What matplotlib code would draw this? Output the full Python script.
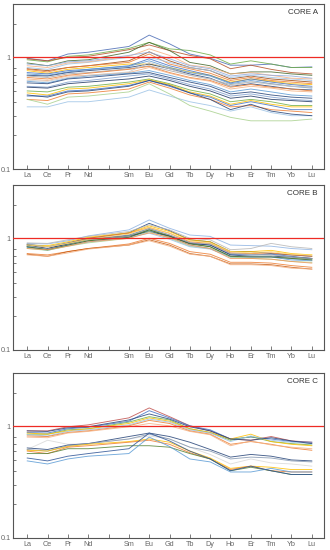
import matplotlib
matplotlib.use("Agg")
import matplotlib.pyplot as plt
from matplotlib.ticker import FixedLocator, NullFormatter

plt.rcParams["font.family"] = ["Liberation Sans", "DejaVu Sans"]

elements = ["La", "Ce", "Pr", "Nd", "", "Sm", "Eu", "Gd", "Tb", "Dy", "Ho", "Er", "Tm", "Yb", "Lu"]
elem_pos = [0, 1, 2, 3, 5, 6, 7, 8, 9, 10, 11, 12, 13, 14]  # Pm (4) has no data

core_a = [
    [0.98, 0.93, 1.07, 1.11, 1.25, 1.58, 1.32, 1.07, 0.98, 0.85, 0.85, 0.87, 0.81, 0.82],
    [0.95, 0.91, 1.02, 1.05, 1.20, 1.36, 1.19, 1.15, 1.05, 0.87, 0.93, 0.87, 0.81, 0.81],
    [0.97, 0.93, 1.00, 1.02, 1.17, 1.29, 1.15, 1.04, 0.97, 0.79, 0.85, 0.78, 0.73, 0.71],
    [0.89, 0.84, 0.93, 0.95, 1.11, 1.36, 1.15, 0.90, 0.84, 0.71, 0.74, 0.74, 0.71, 0.69],
    [0.79, 0.76, 0.81, 0.84, 0.93, 1.12, 0.93, 0.81, 0.76, 0.64, 0.68, 0.64, 0.62, 0.60],
    [0.78, 0.74, 0.81, 0.84, 0.90, 1.07, 0.87, 0.79, 0.72, 0.62, 0.66, 0.62, 0.60, 0.58],
    [0.81, 0.78, 0.87, 0.90, 1.00, 1.00, 0.90, 0.81, 0.76, 0.66, 0.69, 0.66, 0.64, 0.62],
    [0.76, 0.72, 0.78, 0.81, 0.87, 0.87, 0.81, 0.74, 0.69, 0.60, 0.64, 0.61, 0.58, 0.57],
    [0.73, 0.71, 0.76, 0.78, 0.84, 0.97, 0.84, 0.76, 0.69, 0.59, 0.64, 0.60, 0.57, 0.55],
    [0.71, 0.69, 0.74, 0.78, 0.83, 0.93, 0.81, 0.73, 0.68, 0.58, 0.62, 0.58, 0.55, 0.53],
    [0.69, 0.68, 0.73, 0.76, 0.81, 0.87, 0.79, 0.71, 0.65, 0.55, 0.58, 0.55, 0.52, 0.51],
    [0.68, 0.66, 0.71, 0.73, 0.79, 0.84, 0.76, 0.69, 0.64, 0.57, 0.60, 0.58, 0.55, 0.54],
    [0.66, 0.64, 0.69, 0.72, 0.78, 0.83, 0.73, 0.66, 0.62, 0.54, 0.57, 0.54, 0.52, 0.50],
    [0.64, 0.62, 0.68, 0.69, 0.73, 0.81, 0.72, 0.65, 0.61, 0.52, 0.55, 0.53, 0.50, 0.49],
    [0.61, 0.59, 0.65, 0.68, 0.72, 0.76, 0.69, 0.62, 0.57, 0.49, 0.52, 0.49, 0.46, 0.45],
    [0.59, 0.58, 0.64, 0.66, 0.71, 0.73, 0.66, 0.60, 0.55, 0.47, 0.49, 0.46, 0.44, 0.43],
    [0.55, 0.54, 0.60, 0.62, 0.68, 0.71, 0.64, 0.57, 0.52, 0.45, 0.47, 0.44, 0.42, 0.41],
    [0.54, 0.53, 0.58, 0.60, 0.64, 0.68, 0.62, 0.55, 0.50, 0.43, 0.45, 0.42, 0.41, 0.40],
    [0.50, 0.49, 0.54, 0.55, 0.60, 0.64, 0.58, 0.51, 0.47, 0.40, 0.42, 0.40, 0.37, 0.37],
    [0.48, 0.46, 0.52, 0.53, 0.58, 0.63, 0.57, 0.49, 0.45, 0.38, 0.41, 0.38, 0.36, 0.36],
    [0.45, 0.45, 0.50, 0.51, 0.56, 0.62, 0.55, 0.48, 0.44, 0.37, 0.40, 0.37, 0.34, 0.34],
    [0.42, 0.41, 0.47, 0.48, 0.52, 0.60, 0.53, 0.46, 0.42, 0.36, 0.37, 0.34, 0.33, 0.32],
    [0.36, 0.36, 0.40, 0.40, 0.44, 0.51, 0.45, 0.40, 0.37, 0.33, 0.36, 0.32, 0.30, 0.30],
    [0.42, 0.38, 0.44, 0.45, 0.49, 0.58, 0.47, 0.37, 0.33, 0.29, 0.27, 0.27, 0.27, 0.28],
    [0.46, 0.44, 0.49, 0.50, 0.55, 0.62, 0.56, 0.48, 0.42, 0.34, 0.38, 0.33, 0.31, 0.30],
    [0.62, 0.61, 0.66, 0.69, 0.74, 0.90, 0.79, 0.69, 0.64, 0.55, 0.61, 0.57, 0.55, 0.54],
    [0.84, 0.81, 0.89, 0.91, 1.02, 1.19, 1.04, 0.85, 0.81, 0.71, 0.73, 0.69, 0.65, 0.64],
    [0.87, 0.84, 0.91, 0.93, 1.04, 1.11, 0.97, 0.84, 0.79, 0.68, 0.71, 0.69, 0.68, 0.65],
]
colors_a = ["#4A6BB5", "#70AD47", "#B4522A", "#43682B", "#9E480E", "#ED7D31", "#9DC3E6",
            "#FFC000", "#4472C4", "#5B9BD5", "#264478", "#A5A5A5", "#ED7D31", "#F4B183",
            "#5B9BD5", "#264478", "#7F9FCF", "#203864", "#70AD47", "#FFC000", "#4472C4",
            "#ED7D31", "#9DC3E6", "#A9D18E", "#264478", "#C9C9C9", "#F4B183", "#8FAADC"]

core_b = [
    [0.90, 0.89, 0.95, 1.05, 1.19, 1.46, 1.23, 1.07, 1.04, 0.87, 0.86, 0.85, 0.81, 0.79],
    [0.88, 0.84, 0.91, 1.00, 1.12, 1.36, 1.17, 0.97, 0.93, 0.76, 0.76, 0.73, 0.71, 0.69],
    [0.91, 0.90, 0.97, 1.04, 1.15, 1.32, 1.19, 1.00, 0.97, 0.79, 0.81, 0.90, 0.84, 0.81],
    [0.87, 0.86, 0.93, 1.02, 1.12, 1.29, 1.15, 0.97, 0.93, 0.76, 0.76, 0.78, 0.73, 0.71],
    [0.85, 0.81, 0.90, 1.00, 1.11, 1.25, 1.11, 0.93, 0.90, 0.74, 0.73, 0.74, 0.71, 0.69],
    [0.84, 0.80, 0.89, 0.98, 1.07, 1.22, 1.07, 0.91, 0.87, 0.72, 0.71, 0.72, 0.69, 0.66],
    [0.84, 0.79, 0.87, 0.95, 1.05, 1.19, 1.05, 0.90, 0.84, 0.69, 0.69, 0.69, 0.66, 0.65],
    [0.83, 0.78, 0.86, 0.93, 1.02, 1.17, 1.02, 0.87, 0.81, 0.68, 0.68, 0.68, 0.64, 0.63],
    [0.87, 0.81, 0.89, 0.98, 1.05, 1.15, 1.05, 0.90, 0.87, 0.71, 0.69, 0.69, 0.68, 0.66],
    [0.81, 0.78, 0.85, 0.91, 1.00, 1.15, 1.00, 0.85, 0.81, 0.68, 0.66, 0.65, 0.62, 0.61],
    [0.85, 0.80, 0.87, 0.93, 1.02, 1.11, 0.98, 0.84, 0.80, 0.69, 0.69, 0.69, 0.65, 0.64],
    [0.89, 0.84, 0.90, 0.97, 1.05, 1.22, 1.07, 0.91, 0.89, 0.73, 0.72, 0.71, 0.68, 0.66],
    [0.84, 0.79, 0.87, 0.95, 1.02, 1.19, 1.04, 0.89, 0.84, 0.69, 0.68, 0.68, 0.66, 0.64],
    [0.87, 0.84, 0.90, 0.98, 1.09, 1.25, 1.11, 0.95, 0.91, 0.76, 0.74, 0.76, 0.72, 0.71],
    [0.73, 0.71, 0.76, 0.81, 0.89, 1.00, 0.90, 0.76, 0.72, 0.61, 0.61, 0.60, 0.57, 0.55],
    [0.72, 0.69, 0.76, 0.81, 0.87, 0.97, 0.87, 0.73, 0.69, 0.59, 0.59, 0.58, 0.55, 0.53],
    [0.71, 0.69, 0.74, 0.80, 0.87, 0.95, 0.85, 0.72, 0.69, 0.58, 0.58, 0.57, 0.54, 0.53],
    [0.81, 0.79, 0.85, 0.93, 1.00, 1.12, 1.02, 0.87, 0.81, 0.66, 0.66, 0.65, 0.62, 0.60],
]
colors_b = ["#8FB4E3", "#264478", "#B7B7B7", "#FFC000", "#ED7D31", "#4472C4", "#70AD47",
            "#5B9BD5", "#203864", "#A9D18E", "#9DC3E6", "#A5A5A5", "#43682B", "#FFD966",
            "#ED7D31", "#C55A11", "#F4B183", "#F1975A"]

core_c = [
    [0.91, 0.91, 0.99, 1.03, 1.19, 1.46, 1.22, 1.01, 0.91, 0.77, 0.75, 0.81, 0.74, 0.72],
    [0.88, 0.87, 0.95, 0.98, 1.11, 1.38, 1.19, 1.01, 0.93, 0.77, 0.80, 0.77, 0.73, 0.72],
    [0.85, 0.85, 0.93, 0.95, 1.09, 1.22, 1.14, 0.95, 0.88, 0.75, 0.81, 0.73, 0.70, 0.68],
    [0.87, 0.85, 0.91, 0.95, 1.06, 1.19, 1.11, 0.95, 0.88, 0.77, 0.85, 0.73, 0.69, 0.67],
    [0.84, 0.82, 0.90, 0.93, 1.03, 1.16, 1.09, 0.93, 0.87, 0.73, 0.82, 0.75, 0.72, 0.70],
    [0.82, 0.81, 0.88, 0.91, 1.01, 1.13, 1.06, 0.91, 0.85, 0.69, 0.73, 0.69, 0.64, 0.61],
    [0.80, 0.79, 0.87, 0.90, 0.99, 1.06, 1.01, 0.90, 0.84, 0.67, 0.74, 0.68, 0.65, 0.63],
    [0.91, 0.90, 0.97, 0.99, 1.14, 1.29, 1.16, 0.99, 0.91, 0.77, 0.75, 0.79, 0.74, 0.70],
    [0.62, 0.75, 0.69, 0.70, 0.77, 0.82, 0.77, 0.65, 0.56, 0.46, 0.51, 0.47, 0.46, 0.44],
    [0.64, 0.62, 0.68, 0.70, 0.81, 0.87, 0.81, 0.72, 0.62, 0.53, 0.56, 0.54, 0.50, 0.49],
    [0.62, 0.60, 0.67, 0.70, 0.77, 0.85, 0.77, 0.65, 0.60, 0.51, 0.53, 0.52, 0.49, 0.48],
    [0.61, 0.60, 0.66, 0.69, 0.73, 0.77, 0.72, 0.60, 0.52, 0.42, 0.44, 0.43, 0.41, 0.41],
    [0.60, 0.57, 0.65, 0.67, 0.72, 0.75, 0.69, 0.58, 0.51, 0.41, 0.44, 0.40, 0.39, 0.39],
    [0.57, 0.57, 0.63, 0.63, 0.67, 0.67, 0.65, 0.57, 0.51, 0.40, 0.43, 0.40, 0.37, 0.37],
    [0.49, 0.46, 0.51, 0.54, 0.57, 0.80, 0.66, 0.51, 0.48, 0.39, 0.39, 0.42, 0.39, 0.39],
    [0.52, 0.49, 0.54, 0.57, 0.63, 0.87, 0.74, 0.60, 0.51, 0.40, 0.44, 0.40, 0.37, 0.37],
]
colors_c = ["#C0504D", "#4472C4", "#70AD47", "#FFC000", "#9DC3E6", "#ED7D31", "#F4B183",
            "#264478", "#D9D9D9", "#264478", "#8497B0", "#FFC000", "#ED7D31", "#548235",
            "#5B9BD5", "#2F5597"]

cores = [("CORE A", core_a, colors_a), ("CORE B", core_b, colors_b), ("CORE C", core_c, colors_c)]
panel_rects = [
    [13 / 330, 381 / 550, 311 / 330, 165 / 550],
    [13 / 330, 200 / 550, 311 / 330, 165 / 550],
    [13 / 330, 12 / 550, 311 / 330, 165 / 550],
]

fig = plt.figure(figsize=(3.3, 5.5), dpi=100)
fig.patch.set_facecolor("white")

for (name, data, cols), rect in zip(cores, panel_rects):
    ax = fig.add_axes(rect)
    for vals, c in zip(data, cols):
        ax.plot(elem_pos, vals, color=c, lw=0.65, alpha=0.85)
    ax.axhline(1.0, color="#EE2B24", lw=0.9, zorder=5)
    ax.set_yscale("log")
    ax.set_ylim(0.1, 3.0)
    ax.set_xlim(-0.7, 14.6)
    ax.set_xticks(range(len(elements)))
    ax.set_xticklabels(elements)
    ax.yaxis.set_major_locator(FixedLocator([0.1, 1]))
    ax.set_yticklabels(["0.1", "1"])
    ax.yaxis.set_minor_locator(FixedLocator([0.2, 0.3, 0.4, 0.5, 0.6, 0.7, 0.8, 2]))
    ax.yaxis.set_minor_formatter(NullFormatter())
    ax.tick_params(axis="both", which="both", direction="in", colors="#666666",
                   labelsize=5.2, width=0.6, pad=2)
    ax.tick_params(axis="x", length=3)
    ax.tick_params(axis="y", which="major", length=3, pad=1.5)
    ax.tick_params(axis="y", which="minor", length=2)
    for sp in ax.spines.values():
        sp.set_color("#555555")
        sp.set_linewidth(0.8)
    ax.text(0.98, 0.95, name, transform=ax.transAxes, ha="right", va="center",
            fontsize=5.8, color="#333333")

fig.savefig("out.png", dpi=100, facecolor="white")
